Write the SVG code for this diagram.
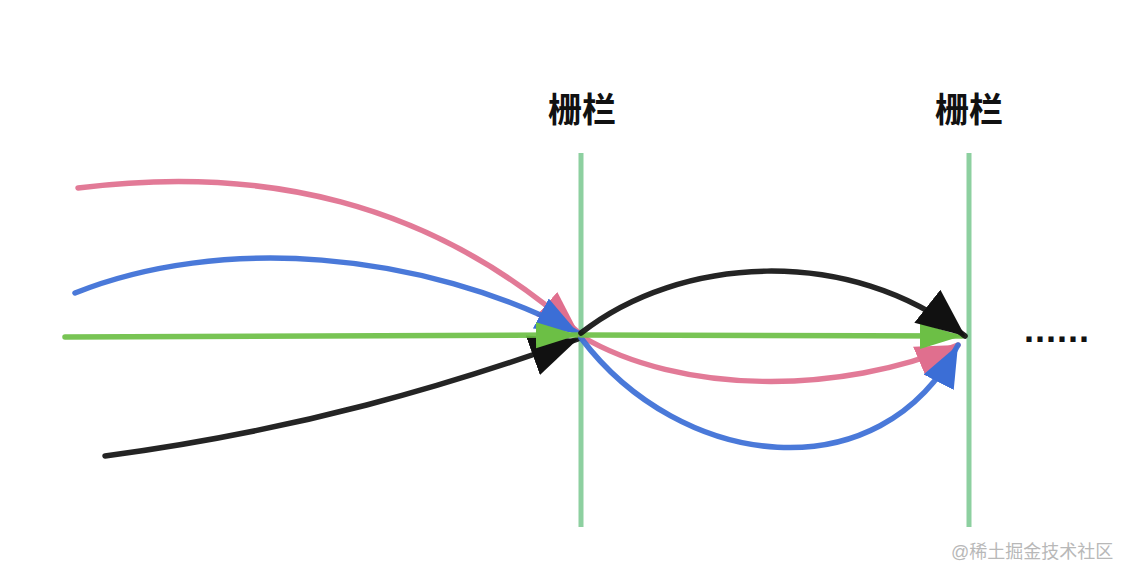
<svg xmlns="http://www.w3.org/2000/svg" width="1130" height="580" viewBox="0 0 1130 580">
  <style>
    .fence { stroke: #8dd0a0; stroke-width: 5; fill: none; }
    .label { font-family: "Noto Sans CJK SC", "Liberation Sans", sans-serif; font-weight: bold; font-size: 34px; fill: #111; text-anchor: middle; }
    .wm { font-family: "Liberation Sans", "Noto Sans CJK SC", sans-serif; font-size: 18px; fill: #b8b8b8; }
    .dots { font-family: "Liberation Sans", sans-serif; font-weight: bold; font-size: 36px; fill: #111; letter-spacing: 1px; }
    .c { fill: none; stroke-width: 5.5; stroke-linecap: round; stroke-opacity: 0.92; }
    .pink { stroke: #e06f8e; }
    .blue { stroke: #3b6ed6; }
    .green { stroke: #6cbf45; }
    .black { stroke: #111; }
  </style>
  <defs>
    <marker id="ap" markerUnits="userSpaceOnUse" markerWidth="42" markerHeight="42" viewBox="0 0 42 42" refX="42" refY="21" orient="auto"><path d="M0,5 L42,21 L0,37 Z" fill="#e06f8e"/></marker>
    <marker id="ab" markerUnits="userSpaceOnUse" markerWidth="42" markerHeight="42" viewBox="0 0 42 42" refX="42" refY="21" orient="auto"><path d="M0,4 L42,21 L0,38 Z" fill="#3b6ed6"/></marker>
    <marker id="ag" markerUnits="userSpaceOnUse" markerWidth="42" markerHeight="42" viewBox="0 0 42 42" refX="42" refY="21" orient="auto"><path d="M0,8 L42,21 L0,34 Z" fill="#6cbf45"/></marker>
    <marker id="ak" markerUnits="userSpaceOnUse" markerWidth="48" markerHeight="48" viewBox="0 0 48 48" refX="48" refY="24" orient="auto"><path d="M0,3 L48,24 L0,45 Z" fill="#111"/></marker>
  </defs>

  <g id="fence1">
    <line class="fence" x1="581" y1="153" x2="581" y2="527"/>
    <text class="label" x="582" y="122">栅栏</text>
  </g>
  <g id="fence2">
    <line class="fence" x1="969" y1="153" x2="969" y2="527"/>
    <text class="label" x="969" y="122">栅栏</text>
  </g>

  <g id="connectors">
    <path class="c pink" d="M78,188 C 260,165 430,200 578,332" marker-end="url(#ap)"/>
    <path class="c blue" d="M75,293 C 220,235 420,250 578,333" marker-end="url(#ab)"/>
    <path class="c black" d="M105,456 C 300,430 450,385 578,339" marker-end="url(#ak)"/>
    <path class="c green" d="M65,337 L578,335" marker-end="url(#ag)"/>

    <path class="c pink" d="M581,336 C 680,395 840,395 958,345" marker-end="url(#ap)"/>
    <path class="c blue" d="M581,338 C 680,470 880,495 958,345" marker-end="url(#ab)"/>
    <path class="c green" d="M581,335 L962,336" marker-end="url(#ag)"/>
    <path class="c black" d="M581,333 C 680,255 850,245 965,336" marker-end="url(#ak)"/>
  </g>

  <text class="dots" x="1024" y="342">......</text>
  <text class="wm" x="951" y="558">@稀土掘金技术社区</text>
</svg>
